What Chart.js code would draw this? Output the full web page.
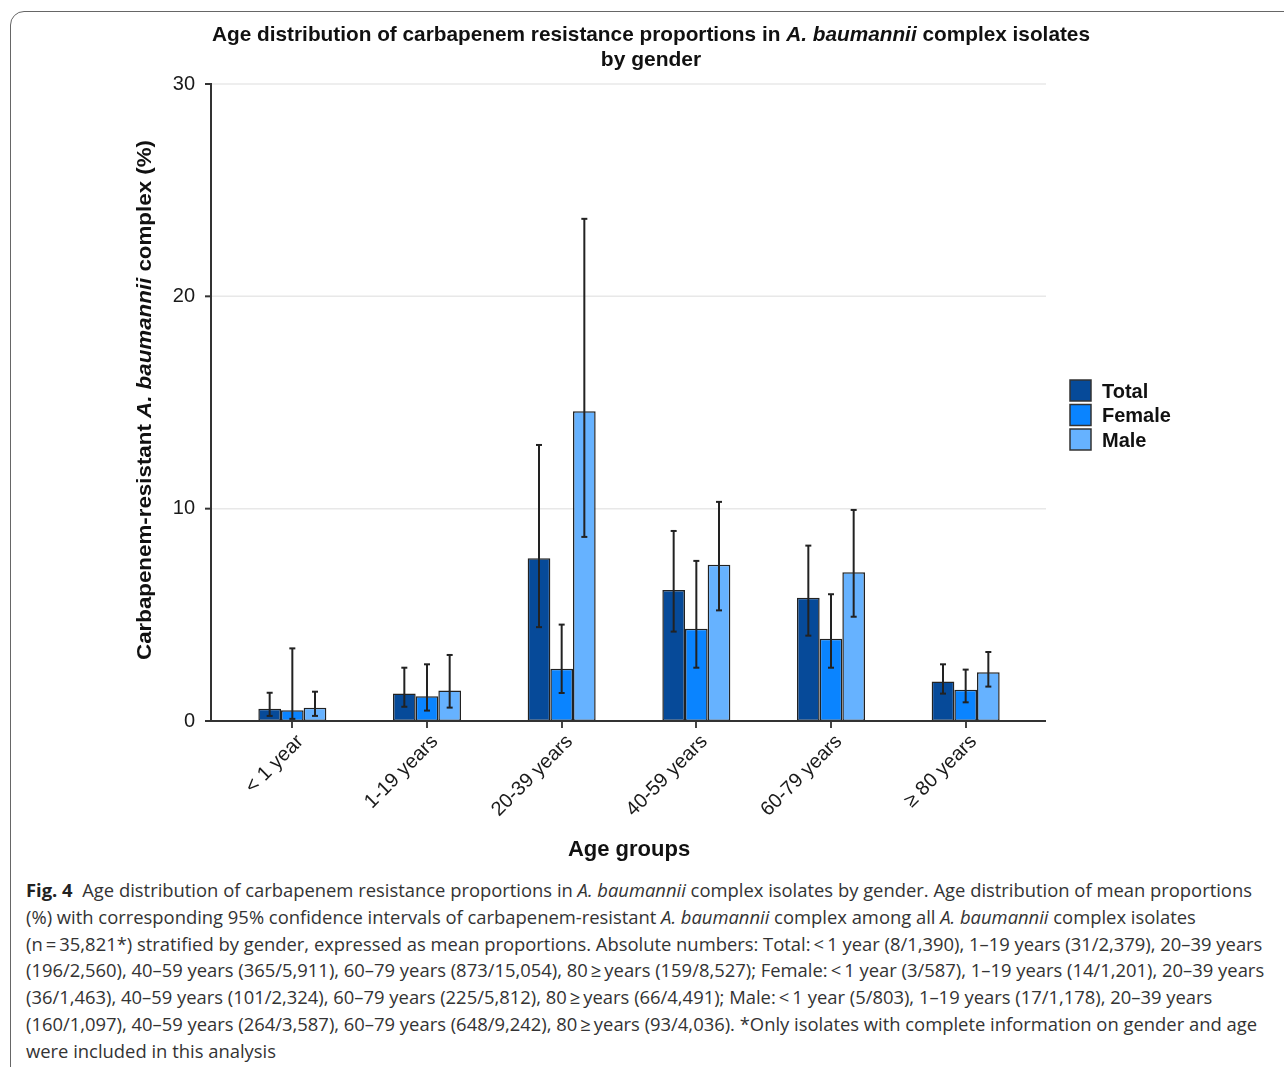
<!DOCTYPE html>
<html>
<head>
<meta charset="utf-8">
<script src="https://cdn.jsdelivr.net/npm/chart.js@4.4.1/dist/chart.umd.min.js"></script>
<style>
  html, body { margin: 0; padding: 0; background: #fff; }
  body { width: 1284px; height: 1067px; position: relative; overflow: hidden; }
  #frame { position: absolute; left: 10px; top: 11px; width: 1320px; height: 1100px;
           border: 1.5px solid #666; border-top-left-radius: 14px; box-sizing: border-box; }
  #chart { position: absolute; left: 0; top: 0; }
  #caption { position: absolute; left: 26px; top: 877px; font-family: "Open Sans", sans-serif;
             font-size: 18.4px; line-height: 26.8px; color: #333; white-space: nowrap; letter-spacing: 0; }
  #caption b { color: #222; }
</style>
</head>
<body>
<div id="frame"></div>
<canvas id="chart" width="1284" height="875"></canvas>
<div id="caption">
  <div><b>Fig. 4</b>&nbsp; Age distribution of carbapenem resistance proportions in <i>A. baumannii</i> complex isolates by gender. Age distribution of mean proportions</div>
  <div>(%) with corresponding 95% confidence intervals of carbapenem-resistant <i>A. baumannii</i> complex among all <i>A. baumannii</i> complex isolates</div>
  <div>(n&#8201;=&#8201;35,821*) stratified by gender, expressed as mean proportions. Absolute numbers: Total:&#8201;&lt;&#8201;1 year (8/1,390), 1–19 years (31/2,379), 20–39 years</div>
  <div>(196/2,560), 40–59 years (365/5,911), 60–79 years (873/15,054), 80&#8201;≥&#8201;years (159/8,527); Female:&#8201;&lt;&#8201;1 year (3/587), 1–19 years (14/1,201), 20–39 years</div>
  <div>(36/1,463), 40–59 years (101/2,324), 60–79 years (225/5,812), 80&#8201;≥&#8201;years (66/4,491); Male:&#8201;&lt;&#8201;1 year (5/803), 1–19 years (17/1,178), 20–39 years</div>
  <div>(160/1,097), 40–59 years (264/3,587), 60–79 years (648/9,242), 80&#8201;≥&#8201;years (93/4,036). *Only isolates with complete information on gender and age</div>
  <div>were included in this analysis</div>
</div>
<script>
// data (mean % and 95% CI per age group)
const ageGroups = ['< 1 year', '1-19 years', '20-39 years', '40-59 years', '60-79 years', '≥ 80 years'];
const seriesNames = ['Total', 'Female', 'Male'];
const totalPct  = [0.58, 1.30, 7.66, 6.17, 5.80, 1.86];
const femalePct = [0.51, 1.17, 2.46, 4.35, 3.87, 1.47];
const malePct   = [0.62, 1.44, 14.59, 7.36, 7.01, 2.30];
const totalLow   = [0.24, 0.67, 4.42, 4.21, 4.02, 1.29];
const totalHigh  = [1.33, 2.51, 13.0, 8.95, 8.26, 2.67];
const femaleLow  = [0.10, 0.49, 1.32, 2.51, 2.51, 0.88];
const femaleHigh = [3.42, 2.67, 4.54, 7.54, 5.97, 2.42];
const maleLow    = [0.24, 0.63, 8.67, 5.21, 4.91, 1.62];
const maleHigh   = [1.38, 3.11, 23.65, 10.32, 9.94, 3.25];
const yTicks = [0, 10, 20, 30];

const colors = ['#064a99', '#0a84ff', '#66b2ff'];
const errLow = [totalLow, femaleLow, maleLow];
const errHigh = [totalHigh, femaleHigh, maleHigh];
const FONT = 'Arial, "Liberation Sans", sans-serif';

function setFont(ctx, size, italic) {
  ctx.font = (italic ? 'italic ' : '') + 'bold ' + size + 'px ' + FONT;
}
// draws text made of [text, italic] pieces, centred on cx
function drawRich(ctx, parts, cx, cy, size, fitW) {
  let w = 0;
  parts.forEach(p => { setFont(ctx, size, p[1]); w += ctx.measureText(p[0]).width; });
  const sx = fitW ? fitW / w : 1;
  ctx.save();
  ctx.translate(cx - w * sx / 2, cy);
  ctx.scale(sx, 1);
  ctx.textBaseline = 'middle';
  ctx.textAlign = 'left';
  let x = 0;
  parts.forEach(p => {
    setFont(ctx, size, p[1]);
    ctx.fillText(p[0], x, 0);
    x += ctx.measureText(p[0]).width;
  });
  ctx.restore();
}

function line(ctx, x1, y1, x2, y2) {
  ctx.beginPath(); ctx.moveTo(x1, y1); ctx.lineTo(x2, y2); ctx.stroke();
}

const decoPlugin = {
  id: 'deco',
  beforeDatasetsDraw(chart) {
    const { ctx, chartArea: a, scales: { y } } = chart;
    ctx.save();
    ctx.strokeStyle = '#e8e8e8';
    ctx.lineWidth = 1.5;
    yTicks.slice(1).forEach(v => {
      const py = y.getPixelForValue(v);
      line(ctx, a.left - 14, py, a.right + 13, py);
    });
    ctx.restore();
  },
  afterDatasetsDraw(chart) {
    const { ctx, chartArea: a, scales: { y } } = chart;
    ctx.save();
    // error bars
    ctx.strokeStyle = '#222';
    ctx.lineWidth = 2;
    chart.data.datasets.forEach((ds, i) => {
      chart.getDatasetMeta(i).data.forEach((bar, j) => {
        const lo = y.getPixelForValue(errLow[i][j]);
        const hi = y.getPixelForValue(errHigh[i][j]);
        line(ctx, bar.x, lo, bar.x, hi);
        line(ctx, bar.x - 3, hi, bar.x + 3, hi);
        line(ctx, bar.x - 3, lo, bar.x + 3, lo);
      });
    });
    // axis lines
    const ax = a.left - 14;
    ctx.strokeStyle = '#333';
    line(ctx, ax, a.top - 1, ax, a.bottom);
    line(ctx, ax - 6, a.bottom, a.right + 13, a.bottom);
    yTicks.forEach(v => {
      const py = y.getPixelForValue(v);
      line(ctx, ax - 6, py, ax, py);
    });
    ctx.restore();
  },
  afterDraw(chart) {
    const { ctx } = chart;
    ctx.save();
    ctx.fillStyle = '#111';
    drawRich(ctx, [['Age distribution of carbapenem resistance proportions in ', false], ['A. baumannii', true], [' complex isolates', false]], 651, 35, 21, 878);
    drawRich(ctx, [['by gender', false]], 651, 60, 21);
    drawRich(ctx, [['Age groups', false]], 629, 850, 22);
    ctx.translate(145, 400);
    ctx.rotate(-Math.PI / 2);
    drawRich(ctx, [['Carbapenem-resistant ', false], ['A. baumannii', true], [' complex (%)', false]], 0, 0, 21, 520);
    ctx.restore();
    // legend
    ctx.save();
    chart.data.datasets.forEach((ds, i) => {
      const by = 380 + i * 24.5;
      ctx.fillStyle = ds.backgroundColor;
      ctx.fillRect(1070, by, 21, 21);
      ctx.strokeStyle = '#333';
      ctx.lineWidth = 1.5;
      ctx.strokeRect(1070, by, 21, 21);
      ctx.fillStyle = '#111';
      setFont(ctx, 20, false);
      ctx.textBaseline = 'middle';
      ctx.fillText(ds.label, 1102, by + 12);
    });
    ctx.restore();
  }
};

const seriesValues = [totalPct, femalePct, malePct];

new Chart(document.getElementById('chart'), {
  type: 'bar',
  data: {
    labels: ageGroups,
    datasets: seriesNames.map((name, i) => ({
      label: name,
      data: seriesValues[i],
      backgroundColor: colors[i],
      borderColor: '#222',
      borderWidth: 1.5,
      borderSkipped: false,
      barPercentage: 1,
      categoryPercentage: 0.505
    }))
  },
  options: {
    responsive: false,
    animation: false,
    devicePixelRatio: 1,
    layout: { padding: { left: 0, top: 84, right: 251, bottom: 54 } },
    plugins: { legend: { display: false }, tooltip: { enabled: false } },
    scales: {
      x: {
        afterFit: s => { s.height = 100; },
        border: { display: false },
        grid: { display: true, drawOnChartArea: false, drawTicks: true, tickLength: 7, offset: false, color: '#444', lineWidth: 2 },
        ticks: { font: { family: FONT, size: 20 }, color: '#1a1a1a', maxRotation: 45, minRotation: 45, autoSkip: false, padding: 2, labelOffset: 8 }
      },
      y: {
        min: 0, max: 30,
        afterFit: s => { s.width = 225; },
        afterBuildTicks: s => { s.ticks = yTicks.map(v => ({ value: v })); },
        border: { display: false },
        grid: { display: false, drawTicks: false },
        ticks: { font: { family: FONT, size: 20 }, color: '#1a1a1a', padding: 30 }
      }
    }
  },
  plugins: [decoPlugin]
});
</script>
</body>
</html>
